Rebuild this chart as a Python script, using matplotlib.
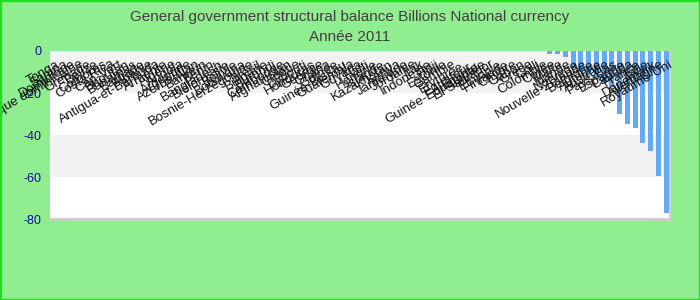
import matplotlib
matplotlib.use("Agg")
import matplotlib.pyplot as plt

plt.rcParams['font.family'] = ['Liberation Sans', 'DejaVu Sans']

title_line1 = "General government structural balance Billions National currency"
title_line2 = "Année 2011"

countries = [
    "Tonga", "Samoa",
    "Dominique", "République dominicaine", "Grenade", "Belize", "Comores",
    "Costa Rica", "Cap-Vert", "Bhoutan", "Bahamas", "Barbade",
    "Albanie", "Antigua-et-Barbuda", "Arménie", "Algérie", "Angola",
    "Argentine", "Azerbaïdjan", "Bahreïn", "Bénin", "Bangladesh",
    "Biélorussie", "Bolivie", "Botswana", "Bosnie-Herzégovine", "Brésil",
    "Bulgarie", "Burundi", "Cambodge", "Afghanistan", "Croatie",
    "Djibouti", "Honduras", "Géorgie", "Ghana", "Guinée",
    "Guinée-Bissau", "Guatemala", "Guyana", "Haïti", "Hongrie",
    "Islande", "Kazakhstan", "Kenya", "Jamaïque", "Jordanie",
    "Irak", "Indonésie", "Fidji", "Estonie", "Gambie",
    "Érythrée", "Équateur", "Égypte", "Guinée-Equatoriale", "El Salvador",
    "Ethiopie", "Finlande", "Chypre", "Gabon", "Grèce",
    "Chili", "Colombie", "Corée", "Malte", "Irlande",
    "Norvège", "Nouvelle-Zélande", "Belgique",
    "Autriche", "Australie", "Pays-Bas", "Espagne", "Canada",
    "France", "Italie", "Danemark", "Allemagne", "Royaume-Uni",
]

values = [
    -0.01, -0.02, -0.01, -0.02, -0.01, -0.03, -0.02, -0.01, -0.03, -0.02,
    -0.04, -0.03, -0.05, -0.04, -0.03, -0.05, -0.06, -0.04, -0.05, -0.06,
    -0.07, -0.05, -0.06, -0.08, -0.07, -0.06, -0.08, -0.09, -0.07, -0.08,
    -0.09, -0.10, -0.08, -0.09, -0.10, -0.11, -0.10, -0.12, -0.11, -0.12,
    -0.13, -0.12, -0.14, -0.13, -0.15, -0.14, -0.15, -0.16, -0.17, -0.16,
    -0.18, -0.17, -0.19, -0.18, -0.20, -0.19, -0.19, -0.20, -0.20, -0.21,
    -0.21, -0.22, -0.22, -0.23, -1.3, -1.4, -3.0, -8.0, -10.0, -11.5,
    -13.0, -15.0, -17.0, -30.0, -34.8, -36.7, -43.8, -47.6, -59.5, -77.0,
]

yticks = [0, -20, -40, -60, -80]

fig = plt.figure(figsize=(7, 3), dpi=100, facecolor='#90ee90')
fig.patches.append(plt.Rectangle((0, 0), 1, 1, transform=fig.transFigure,
                                 fill=False, edgecolor='#22dd22', linewidth=2.5))
ax = fig.add_axes([50/700, 1-219/300, 620/700, 168/300])
ax.set_facecolor('white')

for k in range(len(yticks) - 1):
    if k % 2 == 0:
        ax.axhspan(yticks[k+1], yticks[k], color='#f2f2f2', zorder=0, linewidth=0)

x = list(range(len(countries)))
ax.bar(x, values, width=0.65, color='#64aaf0', zorder=2, linewidth=0)

ax.set_xlim(-0.5, len(countries) - 0.5)
ax.set_ylim(-80, 0)
ax.set_yticks(yticks)
ax.set_yticklabels([str(t) for t in yticks], color='#10109a', fontsize=9)
ax.tick_params(axis='y', length=0, pad=6)
ax.set_xticks([])

for s in ['top', 'left']:
    ax.spines[s].set_visible(False)
for s in ['right', 'bottom']:
    ax.spines[s].set_color('#cccccc')
    ax.spines[s].set_linewidth(2)

for i, name in enumerate(countries):
    ax.text(i + 0.3, -3.5, name, rotation=30, ha='right', va='top',
            rotation_mode='anchor', fontsize=9.5, color='#111111', zorder=3,
            clip_on=False)

fig.text(0.5, 1-17/300, title_line1, ha='center', va='center',
         fontsize=11, color='#404040')
fig.text(0.5, 1-37/300, title_line2, ha='center', va='center',
         fontsize=11, color='#404040')

fig.savefig('out.png', dpi=100, facecolor=fig.get_facecolor())
